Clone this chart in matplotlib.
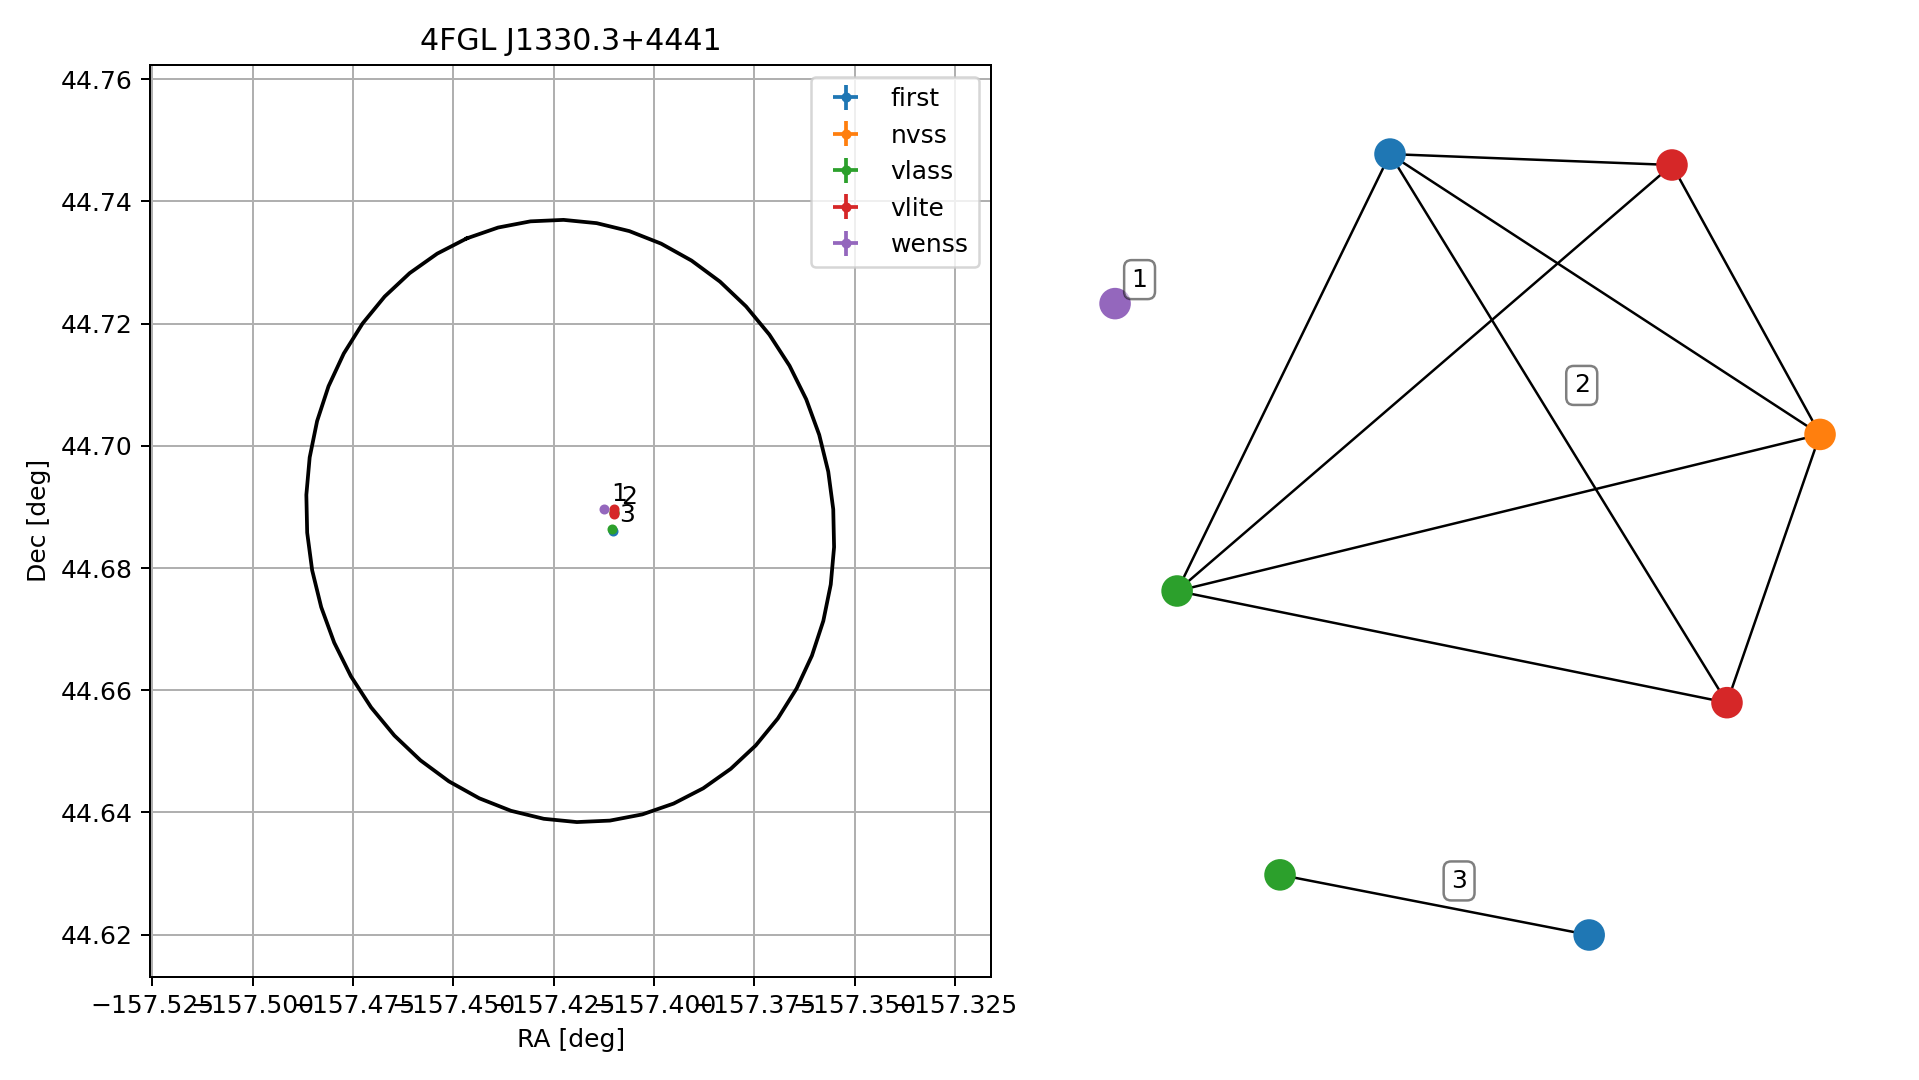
import numpy as np
import matplotlib.pyplot as plt

title = "4FGL J1330.3+4441"

# 4FGL error ellipse (centre, semi-axes in deg, tilt in deg)
ell_ra, ell_dec = -157.4209, 44.6877
ell_a, ell_b, ell_ang = 0.04975, 0.0463, 21.6
ell_n = 50

catalogs = ["first", "nvss", "vlass", "vlite", "wenss"]
colors = ["tab:blue", "tab:orange", "tab:green", "tab:red", "tab:purple"]

first_ra = [-157.4100, -157.4102]
first_dec = [44.6891, 44.6860]
nvss_ra = [-157.4100]
nvss_dec = [44.6891]
vlass_ra = [-157.4101, -157.4105]
vlass_dec = [44.6890, 44.6864]
vlite_ra = [-157.4100, -157.4100]
vlite_dec = [44.6896, 44.6888]
wenss_ra = [-157.4124]
wenss_dec = [44.6896]
pos_err = 0.0001

# matched groups: (catalog, index) members
groups = [
    [("wenss", 0)],
    [("first", 0), ("vlite", 0), ("nvss", 0), ("vlass", 0), ("vlite", 1)],
    [("vlass", 1), ("first", 1)],
]

# graph layout of the matched sources (right panel)
node_cat = ["wenss", "first", "vlite", "nvss", "vlass", "vlite", "vlass", "first"]
node_grp = [0, 1, 1, 1, 1, 1, 2, 2]
node_x = [-1.0, -0.220, 0.580, 1.0, -0.824, 0.736, -0.532, 0.345]
node_y = [0.617, 1.0, 0.972, 0.282, -0.119, -0.405, -0.846, -1.0]
edges = [(1, 2), (1, 3), (1, 4), (1, 5), (2, 3), (2, 4),
         (3, 4), (3, 5), (4, 5), (6, 7)]

ra = {"first": first_ra, "nvss": nvss_ra, "vlass": vlass_ra,
      "vlite": vlite_ra, "wenss": wenss_ra}
dec = {"first": first_dec, "nvss": nvss_dec, "vlass": vlass_dec,
       "vlite": vlite_dec, "wenss": wenss_dec}
cmap = dict(zip(catalogs, colors))

fig = plt.figure(figsize=(1919 / 180, 6), dpi=180)

# ---- left panel: sky positions ----
ax = fig.add_axes([0.0782, 0.0956, 0.4383, 0.8446])

t = np.linspace(0, 2 * np.pi, ell_n + 1)
th = np.radians(ell_ang)
u = -ell_a * np.cos(t) * np.sin(th) + ell_b * np.sin(t) * np.cos(th)
v = ell_a * np.cos(t) * np.cos(th) + ell_b * np.sin(t) * np.sin(th)
ax.plot(ell_ra + u / np.cos(np.radians(ell_dec)), ell_dec + v, color="black")

for cat in catalogs:
    n = len(ra[cat])
    ax.errorbar(ra[cat], dec[cat], xerr=[pos_err] * n, yerr=[pos_err] * n,
                fmt=".", color=cmap[cat], label=cat)

for i, g in enumerate(groups):
    gx = np.mean([ra[c][k] for c, k in g])
    gy = np.mean([dec[c][k] for c, k in g])
    ax.annotate(str(i + 1), (gx, gy), xytext=(2.8, 3.3),
                textcoords="offset points", fontsize=10)

ax.set_xlim(-157.5256, -157.316)
ax.set_ylim(44.6131, 44.7624)
ax.set_xticks(np.arange(-157.525, -157.32, 0.025))
ax.set_yticks(np.arange(44.62, 44.761, 0.02))
ax.ticklabel_format(useOffset=False)
ax.grid(True)
ax.set_xlabel("RA [deg]")
ax.set_ylabel("Dec [deg]")
ax.set_title(title)
ax.legend(loc="upper right")

# ---- right panel: match graph ----
gax = fig.add_axes([0.5627, 0.0981, 0.4041, 0.7954])
for i, j in edges:
    gax.plot([node_x[i], node_x[j]], [node_y[i], node_y[j]],
             color="black", lw=1, zorder=1)
gax.scatter(node_x, node_y, s=135, c=[cmap[c] for c in node_cat], zorder=2)
for g in range(len(groups)):
    idx = [k for k in range(len(node_grp)) if node_grp[k] == g]
    cx = np.mean([node_x[k] for k in idx])
    cy = np.mean([node_y[k] for k in idx])
    gax.annotate(str(g + 1), (cx, cy), xytext=(9.8, 9.6),
                 textcoords="offset points", ha="center", va="center",
                 fontsize=10,
                 bbox=dict(boxstyle="round", facecolor="white", alpha=0.5))
gax.set_xlim(-1.1, 1.1)
gax.set_ylim(-1.1, 1.1)
gax.axis("off")

fig.savefig("out.png", dpi=180)
